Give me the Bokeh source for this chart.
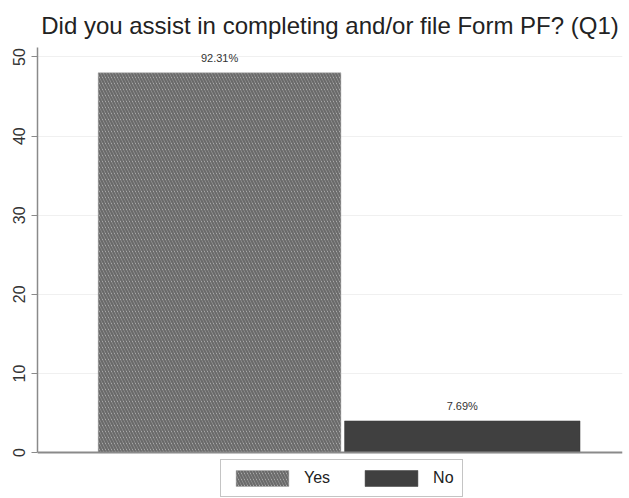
from bokeh.plotting import figure
from bokeh.models import Range1d, FixedTicker, Legend, LegendItem, Span
from bokeh.core.properties import value
from bokeh.embed import file_html
from bokeh.resources import INLINE

categories = ["Yes", "No"]
counts = [48, 4]
pct_labels = ["92.31%", "7.69%"]
y_ticks = [0, 10, 20, 30, 40, 50]

xpos = [i + 0.5 for i in range(len(categories))]

p = figure(width=629, height=498, output_backend="svg", toolbar_location=None,
           x_range=Range1d(-0.25, 2.16), y_range=Range1d(-5.8, 51.2),
           title="Did you assist in completing and/or file Form PF? (Q1)")
p.min_border_left = 37
p.min_border_right = 7
p.min_border_top = 45
p.min_border_bottom = 0
p.outline_line_color = None
p.background_fill_color = "white"
p.border_fill_color = "white"

p.title.text_font = "Liberation Sans"
p.title.text_font_size = "24px"
p.title.text_font_style = "normal"
p.title.text_color = "#222222"
p.title.align = "center"
p.title.standoff = 18

p.xaxis.visible = False
p.xgrid.visible = False
p.ygrid.grid_line_color = "#f0f0f0"
p.ygrid.grid_line_width = 1

yax = p.yaxis[0]
yax.ticker = FixedTicker(ticks=y_ticks)
yax.bounds = (0, 51.2)
yax.axis_line_color = "#8a8a8a"
yax.axis_line_width = 1.5
yax.major_tick_line_color = "#8a8a8a"
yax.major_tick_out = 6
yax.major_tick_in = 0
yax.minor_tick_line_color = None
yax.major_label_orientation = "vertical"
yax.major_label_text_font = "Liberation Sans"
yax.major_label_text_font_size = "16px"
yax.major_label_text_color = "#333333"
yax.major_label_standoff = 6

r_yes = p.vbar(x=[xpos[0]], top=[counts[0]], width=1.0, bottom=0,
               fill_color="#cacaca", line_color="#b0b0b0", line_width=0.5,
               hatch_pattern="\\", hatch_color="#6a6a6a", hatch_scale=6, hatch_weight=2.4)
r_no = p.vbar(x=[xpos[1]], top=[counts[1]], width=0.97, bottom=0,
              fill_color="#404040", line_color="#3a3a3a", line_width=0.5)

p.add_layout(Span(location=0, dimension="width", line_color="#8a8a8a", line_width=2))

p.text(x=xpos, y=counts, text=pct_labels, y_offset=-9,
       text_align="center", text_baseline="bottom",
       text_font=value("Liberation Sans"), text_font_size="11px", text_color="#333333")

legend = Legend(items=[LegendItem(label="Yes", renderers=[r_yes]),
                       LegendItem(label="No", renderers=[r_no])],
                orientation="horizontal", location=(183, 1))
legend.glyph_width = 66
legend.glyph_height = 20
legend.label_standoff = 9
legend.spacing = 28
legend.padding = 8
legend.margin = 0
legend.border_line_color = "#8a8a8a"
legend.border_line_width = 1.5
legend.label_text_font = "Liberation Sans"
legend.label_text_font_size = "16px"
legend.label_text_color = "#222222"
legend.background_fill_color = "white"
p.add_layout(legend, "center")

open("out.html", "w").write(file_html(p, INLINE))
